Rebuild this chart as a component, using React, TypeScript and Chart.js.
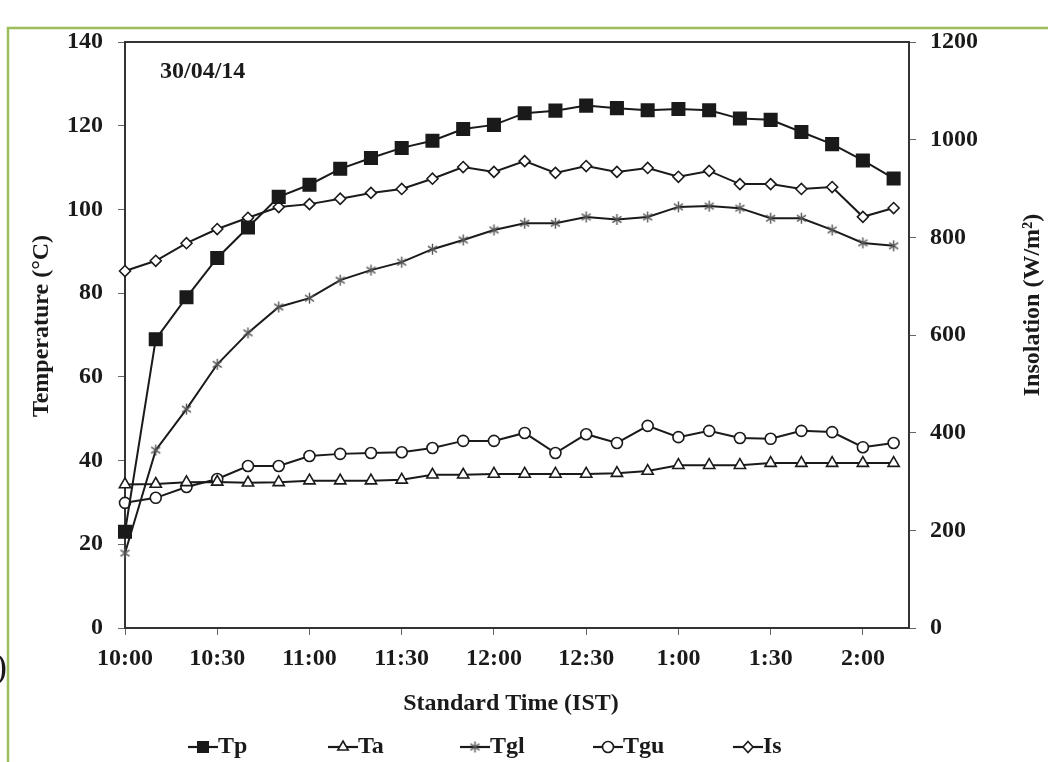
import React, { useEffect, useRef } from 'react';
import { Chart, registerables } from 'chart.js';

Chart.register(...registerables);

// ---- data ----
const minutesAfterTen = [0, 10, 20, 30, 40, 50, 60, 70, 80, 90, 100, 110, 120, 130, 140, 150, 160, 170, 180, 190, 200, 210, 220, 230, 240, 250];
const xTickValues = [0, 30, 60, 90, 120, 150, 180, 210, 240];
const xTickLabels = ['10:00', '10:30', '11:00', '11:30', '12:00', '12:30', '1:00', '1:30', '2:00'];

const tp = [23.0, 69.0, 79.0, 88.4, 95.7, 103.0, 105.9, 109.7, 112.3, 114.7, 116.4, 119.2, 120.2, 123.0, 123.6, 124.8, 124.2, 123.7, 124.0, 123.7, 121.7, 121.4, 118.5, 115.6, 111.7, 107.4];
const ta = [34.3, 34.4, 34.8, 34.9, 34.7, 34.8, 35.2, 35.2, 35.2, 35.4, 36.6, 36.6, 36.8, 36.8, 36.8, 36.8, 37.0, 37.5, 38.9, 38.9, 38.9, 39.4, 39.4, 39.4, 39.4, 39.4];
const tgl = [17.9, 42.5, 52.3, 63.0, 70.5, 76.7, 78.8, 83.1, 85.5, 87.4, 90.5, 92.7, 95.1, 96.7, 96.7, 98.2, 97.6, 98.2, 100.6, 100.8, 100.3, 97.9, 97.9, 95.1, 92.0, 91.3];
const tgu = [29.9, 31.1, 33.7, 35.6, 38.7, 38.7, 41.1, 41.6, 41.8, 42.0, 43.0, 44.7, 44.7, 46.6, 41.8, 46.3, 44.2, 48.3, 45.6, 47.1, 45.4, 45.2, 47.1, 46.8, 43.2, 44.2];
const insolation = [731, 752, 788, 817, 840, 862, 868, 879, 891, 899, 920, 944, 934, 956, 932, 946, 934, 942, 924, 936, 909, 909, 899, 903, 842, 860];

const seriesNames = ['Tp', 'Ta', 'Tgl', 'Tgu', 'Is'];
const dateLabel = '30/04/14';
const yLeftTitle = 'Temperature (°C)';
const yRightTitle = 'Insolation (W/m²)';
const xTitle = 'Standard Time (IST)';

const FONT = '"Liberation Serif", "Times New Roman", serif';
const INK = '#1a1a1a';
const AXIS = '#333333';
const LEGEND_X = [188, 328, 460, 593, 733];

function makeStar(size: number, color: string) {
  const c = document.createElement('canvas');
  c.width = size;
  c.height = size;
  const g = c.getContext('2d')!;
  g.strokeStyle = color;
  g.lineWidth = 1.4;
  const m = size / 2;
  const r = size / 2 - 1;
  const a = (35 * Math.PI) / 180;
  const dx = r * Math.cos(a);
  const dy = r * Math.sin(a);
  g.beginPath();
  g.moveTo(m, m - r);
  g.lineTo(m, m + r);
  g.moveTo(m - dx, m - dy);
  g.lineTo(m + dx, m + dy);
  g.moveTo(m + dx, m - dy);
  g.lineTo(m - dx, m + dy);
  g.stroke();
  return c;
}

function toPoints(ys: number[]) {
  return ys.map((y, i) => ({ x: minutesAfterTen[i], y }));
}

function drawMarker(ctx: CanvasRenderingContext2D, kind: string, x: number, y: number, star: HTMLCanvasElement) {
  ctx.save();
  ctx.lineWidth = 1.6;
  ctx.strokeStyle = INK;
  ctx.fillStyle = '#ffffff';
  ctx.beginPath();
  if (kind === 'Tp') {
    ctx.fillStyle = INK;
    ctx.fillRect(x - 6, y - 6, 12, 12);
  } else if (kind === 'Ta') {
    const r = 6;
    ctx.moveTo(x, y - r);
    ctx.lineTo(x + r * 0.866, y + r * 0.5);
    ctx.lineTo(x - r * 0.866, y + r * 0.5);
    ctx.closePath();
    ctx.fill();
    ctx.stroke();
  } else if (kind === 'Tgl') {
    ctx.drawImage(star, x - star.width / 2, y - star.height / 2);
  } else if (kind === 'Tgu') {
    ctx.arc(x, y, 5.5, 0, Math.PI * 2);
    ctx.fill();
    ctx.stroke();
  } else {
    ctx.moveTo(x, y - 5.5);
    ctx.lineTo(x + 5, y);
    ctx.lineTo(x, y + 5.5);
    ctx.lineTo(x - 5, y);
    ctx.closePath();
    ctx.fill();
    ctx.stroke();
  }
  ctx.restore();
}

export default function App() {
  const canvasRef = useRef<HTMLCanvasElement | null>(null);

  useEffect(() => {
    const canvas = canvasRef.current;
    if (!canvas) return;
    const star = makeStar(13, '#555555');

    const decorPlugin = {
      id: 'decor',
      afterDraw(chart: any) {
        const ctx: CanvasRenderingContext2D = chart.ctx;
        const a = chart.chartArea;
        ctx.save();
        // green page frame
        ctx.strokeStyle = '#9cbf5a';
        ctx.lineWidth = 2.5;
        ctx.beginPath();
        ctx.moveTo(8, 762);
        ctx.lineTo(8, 28);
        ctx.lineTo(1048, 28);
        ctx.stroke();
        // stray bracket at left edge
        ctx.fillStyle = INK;
        ctx.font = `36px ${FONT}`;
        ctx.textAlign = 'left';
        ctx.textBaseline = 'alphabetic';
        ctx.fillText(')', -5, 678);
        // plot frame (top + right)
        ctx.strokeStyle = AXIS;
        ctx.lineWidth = 2;
        ctx.beginPath();
        ctx.moveTo(a.left, a.top);
        ctx.lineTo(a.right, a.top);
        ctx.lineTo(a.right, a.bottom);
        ctx.stroke();
        // texts
        ctx.fillStyle = INK;
        ctx.font = `bold 24px ${FONT}`;
        ctx.textBaseline = 'middle';
        ctx.textAlign = 'left';
        ctx.fillText(dateLabel, 160, 72);
        ctx.textAlign = 'center';
        ctx.fillText(xTitle, 511, 704);
        ctx.save();
        ctx.translate(42, 326);
        ctx.rotate(-Math.PI / 2);
        ctx.fillText(yLeftTitle, 0, 0);
        ctx.restore();
        ctx.save();
        ctx.translate(1033, 305);
        ctx.rotate(-Math.PI / 2);
        ctx.fillText(yRightTitle, 0, 0);
        ctx.restore();
        // legend
        const ly = 747;
        ctx.textAlign = 'left';
        seriesNames.forEach((name, i) => {
          const lx = LEGEND_X[i];
          ctx.strokeStyle = INK;
          ctx.lineWidth = 2.2;
          ctx.beginPath();
          ctx.moveTo(lx, ly);
          ctx.lineTo(lx + 30, ly);
          ctx.stroke();
          drawMarker(ctx, name, lx + 15, ly, star);
          ctx.fillStyle = INK;
          ctx.fillText(name, lx + 30, ly);
        });
        ctx.restore();
      },
    };

    const common = {
      borderColor: INK,
      borderWidth: 2,
      tension: 0,
      clip: false as any,
      pointBorderColor: INK,
      pointBorderWidth: 1.6,
      pointBackgroundColor: '#ffffff',
    };

    const tickFont = { family: FONT, size: 24, weight: 'bold' as any };
    const gridCommon = { drawOnChartArea: false, drawTicks: true, tickLength: 7, tickColor: '#666666', lineWidth: 1 };

    const chart = new Chart(canvas, {
      type: 'line',
      data: {
        datasets: [
          { ...common, label: seriesNames[0], data: toPoints(tp), yAxisID: 'y', pointStyle: 'rect', pointRadius: 8.8, pointBackgroundColor: INK },
          { ...common, label: seriesNames[1], data: toPoints(ta), yAxisID: 'y', pointStyle: 'triangle', pointRadius: 6.5 },
          { ...common, label: seriesNames[2], data: toPoints(tgl), yAxisID: 'y', pointStyle: star as any, pointRadius: 6 },
          { ...common, label: seriesNames[3], data: toPoints(tgu), yAxisID: 'y', pointStyle: 'circle', pointRadius: 5.5 },
          { ...common, label: seriesNames[4], data: toPoints(insolation), yAxisID: 'y1', pointStyle: 'rectRot', pointRadius: 5.5 },
        ],
      },
      options: {
        responsive: false,
        animation: false,
        devicePixelRatio: 1,
        layout: { padding: { left: 0, right: 0, top: 42, bottom: 74 } },
        plugins: { legend: { display: false }, tooltip: { enabled: false } },
        scales: {
          x: {
            type: 'linear',
            min: 0,
            max: 255,
            afterFit: (s: any) => { s.height = 60; },
            afterBuildTicks: (s: any) => { s.ticks = xTickValues.map((v) => ({ value: v })); },
            ticks: {
              autoSkip: false,
              maxRotation: 0,
              padding: 9,
              color: INK,
              font: tickFont,
              callback: (_v: any, i: number) => xTickLabels[i],
            },
            grid: gridCommon,
            border: { display: true, color: AXIS, width: 2 },
          },
          y: {
            position: 'left',
            min: 0,
            max: 140,
            afterFit: (s: any) => { s.width = 125; },
            ticks: { stepSize: 20, padding: 15, color: INK, font: tickFont, callback: (v: any) => String(v) },
            grid: gridCommon,
            border: { display: true, color: AXIS, width: 2 },
          },
          y1: {
            position: 'right',
            min: 0,
            max: 1200,
            afterFit: (s: any) => { s.width = 139; },
            ticks: { stepSize: 200, padding: 14, color: INK, font: tickFont, callback: (v: any) => String(v) },
            grid: gridCommon,
            border: { display: true, color: AXIS, width: 2 },
          },
        },
      } as any,
      plugins: [decorPlugin],
    });

    return () => chart.destroy();
  }, []);

  return (
    <div style={{ position: 'fixed', left: 0, top: 0, width: 1048, height: 762, background: '#ffffff' }}>
      <canvas ref={canvasRef} width={1048} height={762} style={{ width: 1048, height: 762, display: 'block' }} />
    </div>
  );
}
